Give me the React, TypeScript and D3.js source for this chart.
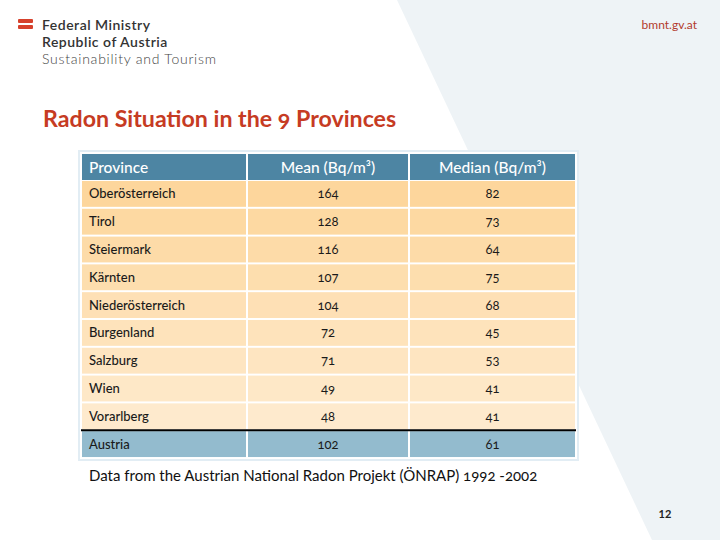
import React from "react";
import * as d3 from "d3";

const provinces = ["Oberösterreich", "Tirol", "Steiermark", "Kärnten", "Niederösterreich", "Burgenland", "Salzburg", "Wien", "Vorarlberg", "Austria"];
const meanValues = [164, 128, 116, 107, 104, 72, 71, 49, 48, 102];
const medianValues = [82, 73, 64, 75, 68, 45, 53, 41, 41, 61];
const headers = ["Province", "Mean (Bq/m³)", "Median (Bq/m³)"];

const W = 720, H = 540;
const colEdges = [81, 247, 409, 576];
const FONT = "Lato, 'Open Sans', sans-serif";

export default function App() {
  const y = d3.scaleBand<string>().domain(provinces).range([180, 458]).paddingInner(0.07).paddingOuter(0.035);
  const shade = d3.scaleLinear<string>().domain([0, 8]).range(["#fdd69c", "#feeacd"]).interpolate(d3.interpolateRgb);
  const cols = [0, 1, 2].map(i => ({ x0: colEdges[i] + 1, x1: colEdges[i + 1] - 1 }));
  const headerY0 = 154, headerY1 = 180;
  return (
    <svg width={W} height={H} style={{ position: "absolute", left: 0, top: 0 }} fontFamily={FONT}>
      <rect x={0} y={0} width={W} height={H} fill="#ffffff" />
      <polygon points={`397,0 ${W},0 ${W},${H} 652,${H}`} fill="#eef3f6" />
      {/* logo */}
      <rect x={18} y={19} width={15} height={4} fill="#d6412c" rx={1} />
      <rect x={18} y={25} width={15} height={4} fill="#d6412c" rx={1} />
      <text x={42} y={30} fontSize={14} fontWeight={600} fill="#333" letterSpacing={0.5}>Federal Ministry</text>
      <text x={42} y={47} fontSize={14} fontWeight={600} fill="#333" letterSpacing={0.5}>Republic of Austria</text>
      <text x={42} y={64} fontSize={14} fontWeight={300} fill="#444" letterSpacing={0.75}>Sustainability and Tourism</text>
      <text x={697} y={29} fontSize={12} fill="#b23a2c" textAnchor="end">bmnt.gv.at</text>
      {/* title */}
      <text x={43} y={127} fontSize={23.2} fontWeight={700} fill="#c63b23" style={{ fontVariantNumeric: "oldstyle-nums" }}>Radon Situation in the 9 Provinces</text>
      {/* table frame */}
      <rect x={79} y={151} width={499} height={309} fill="#ffffff" stroke="#e2edf4" strokeWidth={2} />
      {/* header */}
      {cols.map((c, i) => (
        <rect key={"h" + i} x={c.x0} y={headerY0} width={c.x1 - c.x0} height={headerY1 - headerY0} fill="#4d85a3" />
      ))}
      {headers.map((h, i) => (
        <text key={"ht" + i} x={i === 0 ? 89 : (cols[i].x0 + cols[i].x1) / 2} y={172.5} fontSize={15.5} fontWeight={500} fill="#ffffff"
          textAnchor={i === 0 ? "start" : "middle"}>{h}</text>
      ))}
      {provinces.map((p, r) => {
        const y0 = y(p)!, bh = y.bandwidth();
        const isTotal = r === provinces.length - 1;
        const fill = isTotal ? "#93bbce" : shade(r);
        const vals = [p, String(meanValues[r]), String(medianValues[r])];
        return (
          <g key={p}>
            {cols.map((c, i) => (
              <rect key={i} x={c.x0} y={y0} width={c.x1 - c.x0} height={bh} fill={fill} />
            ))}
            {vals.map((v, i) => (
              <text key={"t" + i} x={i === 0 ? 89 : (cols[i].x0 + cols[i].x1) / 2} y={y0 + bh / 2 + 4.5}
                fontSize={13} fontWeight={i === 0 ? 500 : 400} fill="#1a1a1a" textAnchor={i === 0 ? "start" : "middle"}
                style={{ fontVariantNumeric: "oldstyle-nums" }}>{v}</text>
            ))}
          </g>
        );
      })}
      <line x1={81} x2={576} y1={y("Austria")! - 1} y2={y("Austria")! - 1} stroke="#000" strokeWidth={2} />
      {/* footnote */}
      <text x={89} y={481} fontSize={15} fill="#111" style={{ fontVariantNumeric: "oldstyle-nums" }}>Data from the Austrian National Radon Projekt (ÖNRAP) 1992 -2002</text>
      <text x={665} y={518} fontSize={11} fontWeight={700} fill="#222" textAnchor="middle">12</text>
    </svg>
  );
}
